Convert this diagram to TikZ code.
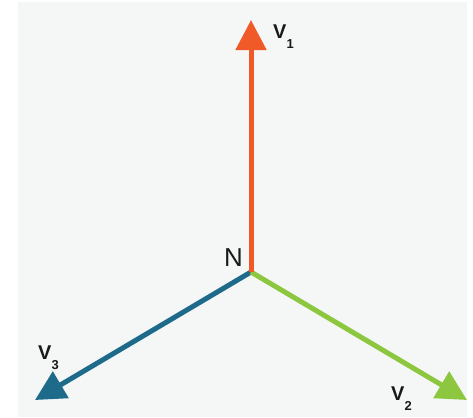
\documentclass[tikz,border=0pt]{standalone}
\usepackage{fontspec}
\setmainfont{Liberation Sans}
\usetikzlibrary{arrows.meta}
\definecolor{bgc}{HTML}{F5F7F7}
\definecolor{vred}{HTML}{F05A28}
\definecolor{vblue}{HTML}{1D6A8A}
\definecolor{vgreen}{HTML}{8DC63F}
\newcommand\mysubtxt[1]{\raisebox{-10bp}{\fontsize{13}{13}\selectfont\bfseries #1}}
\begin{document}
\begin{tikzpicture}[x=1bp,y=-1bp,
  vec/.style={line width=5bp, line cap=butt, -{Triangle[length=30bp,width=30bp]}},
  lab/.style={anchor=base west, inner sep=0pt, outer sep=0pt, text=black!90, font=\fontsize{20}{20}\selectfont\bfseries}]
\useasboundingbox (0,0) rectangle (473,417);
\fill[white] (0,0) rectangle (473,417);
\fill[bgc] (18,2) rectangle (467,417);
\coordinate (O) at (251,272);
\coordinate (t1) at (251,20);
\coordinate (t2) at (467,400);
\coordinate (t3) at (35,400);
\draw[vec, vblue] (O) -- (t3);
\draw[vec, vgreen] (O) -- (t2);
\draw[vec, vred] (O) -- (t1);
\node[lab, font=\fontsize{26}{26}\selectfont] (nlab) at (224,266) {N};
\node[lab] (v1) at (273,38) {V\kern0.3bp\mysubtxt{1}};
\node[lab] (v3) at (38,359) {V\kern0.3bp\mysubtxt{3}};
\node[lab] (v2) at (391,400) {V\kern0.3bp\mysubtxt{2}};
\end{tikzpicture}
\end{document}
